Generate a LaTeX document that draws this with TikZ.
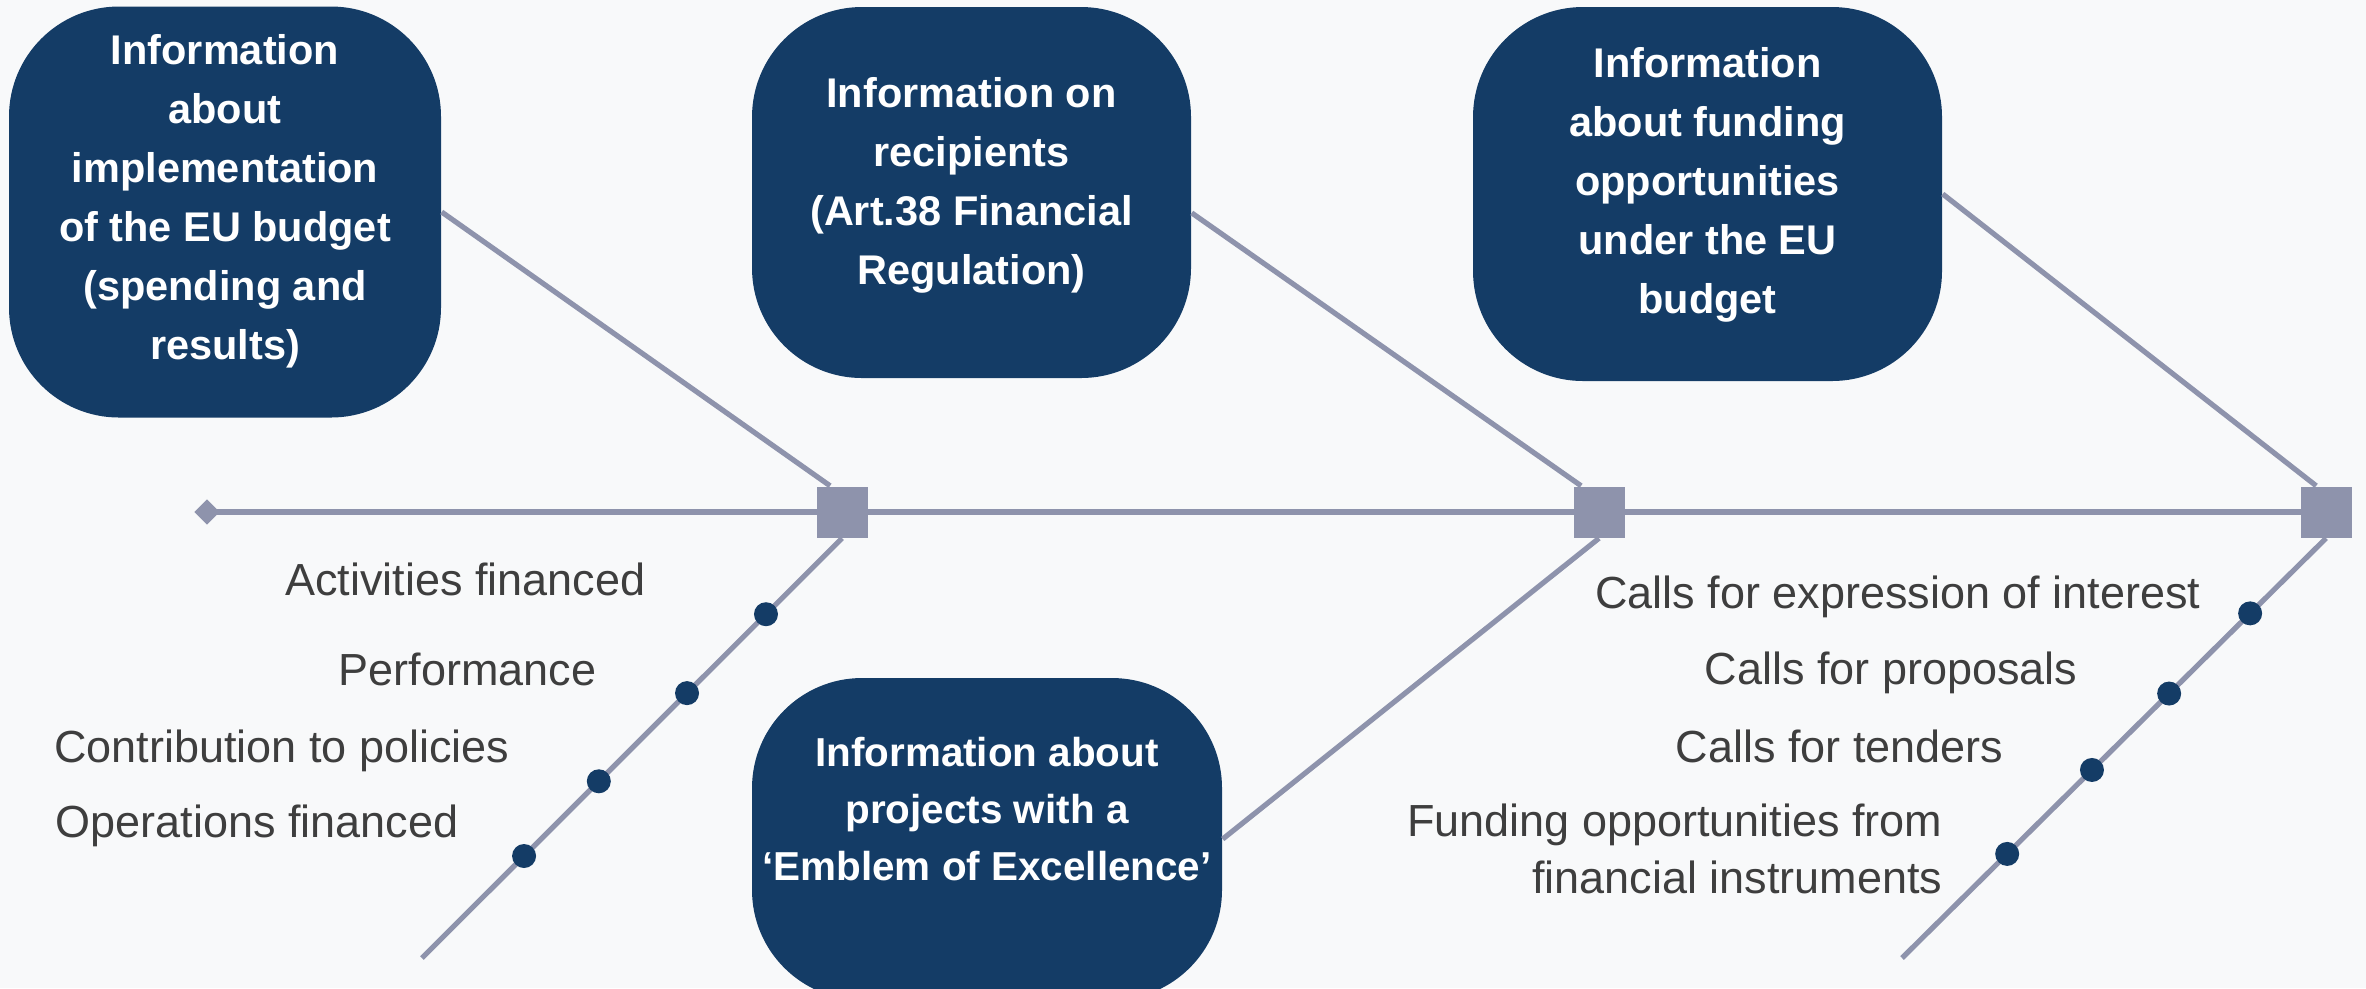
\documentclass[tikz,border=0pt]{standalone}
\usepackage{fontspec}
\setmainfont{Liberation Sans}
\usetikzlibrary{shapes.geometric}

\definecolor{navy}{RGB}{20,60,102}
\definecolor{bonegray}{RGB}{142,147,172}
\definecolor{itemgray}{RGB}{62,62,62}
\definecolor{paper}{RGB}{248,249,250}

\begin{document}
\begin{tikzpicture}
            [x=0.1mm, y=-0.1mm,
             topic/.style={rectangle, rounded corners=11mm, fill=navy, inner sep=0pt},
             topictext/.style={text=white, font=\bfseries\fontsize{11.8}{16.8}\selectfont, align=center, inner sep=0pt},
             joint/.style={rectangle, fill=bonegray, minimum size=5.1mm, inner sep=0pt},
             tail/.style={diamond, fill=bonegray, minimum size=2.6mm, inner sep=0pt},
             dot/.style={circle, fill=navy, minimum size=2.4mm, inner sep=0pt},
             item/.style={text=itemgray, font=\fontsize{12.8}{16}\selectfont, anchor=base east, align=right, inner sep=0pt},
             bone/.style={draw=bonegray, line width=0.52mm}]

            \useasboundingbox[fill=paper] (0,0) rectangle (2366,988);
            \clip (0,0) rectangle (2366,988);

            \node[topic, minimum width=43.2mm, minimum height=41.1mm] (b1) at (225,212) {};
            \node[topic, minimum width=43.9mm, minimum height=37.1mm] (b2) at (971.5,192.5) {};
            \node[topic, minimum width=46.9mm, minimum height=37.4mm] (b3) at (1707.5,194) {};
            \node[topic, minimum width=47.0mm, minimum height=32.2mm] (b4) at (987,839) {};

            \node[topictext, yshift=3.1pt] (t1) at (b1) {Information\\about\\implementation\\of the EU budget\\(spending and\\results)};
            \node[topictext, yshift=2pt] (t2) at (b2) {Information on\\recipients\\(Art.38 Financial\\Regulation)};
            \node[topictext, yshift=2.6pt] (t3) at (b3) {Information\\about funding\\opportunities\\under the EU\\budget};
            \node[topictext, yshift=8.5pt, font=\bfseries\fontsize{11.5}{16.2}\selectfont] (t4) at (b4) {Information about\\projects with a\\‘Emblem of Excellence’};

            \node[tail] (tl) at (207,512) {};
            \node[joint] (s1) at (842,512) {};
            \node[joint] (s2) at (1599,512) {};
            \node[joint] (s3) at (2326,512) {};

            \coordinate (e1) at (422,958);
            \coordinate (e3) at (1902,958);

            \draw[bone] (tl.center) -- (s3.center);
            \draw[bone] (b1.east) -- ([xshift=-3.4pt]s1.north);
            \draw[bone] ([yshift=-5.8pt]b2.east) -- ([xshift=-5.1pt]s2.north);
            \draw[bone] (b3.east) -- ([xshift=-2.8pt]s3.north);
            \draw[bone] (s2.south) -- (b4.east);

            \draw[bone] (s1.south) -- (e1)
                node[dot, pos=0.181] (d1) {} node[dot, pos=0.369] (d2) {}
                node[dot, pos=0.579] (d3) {} node[dot, pos=0.757] (d4) {};
            \draw[bone] (s3.south) -- (e3)
                node[dot, pos=0.179] (d5) {} node[dot, pos=0.370] (d6) {}
                node[dot, pos=0.552] (d7) {} node[dot, pos=0.752] (d8) {};

            \node[item] (l1) at (646,595) {Activities financed};
            \node[item] (l2) at (597,685) {Performance};
            \node[item] (l3) at (510,762) {Contribution to policies};
            \node[item] (l4) at (459,837) {Operations financed};
            \node[item] (l5) at (2201,608) {Calls for expression of interest};
            \node[item] (l6) at (2078,684) {Calls for proposals};
            \node[item] (l7) at (2004,762) {Calls for tenders};
            \node[item] (l8) at (1943,893) {Funding opportunities from\\financial instruments};
        \end{tikzpicture}
\end{document}
